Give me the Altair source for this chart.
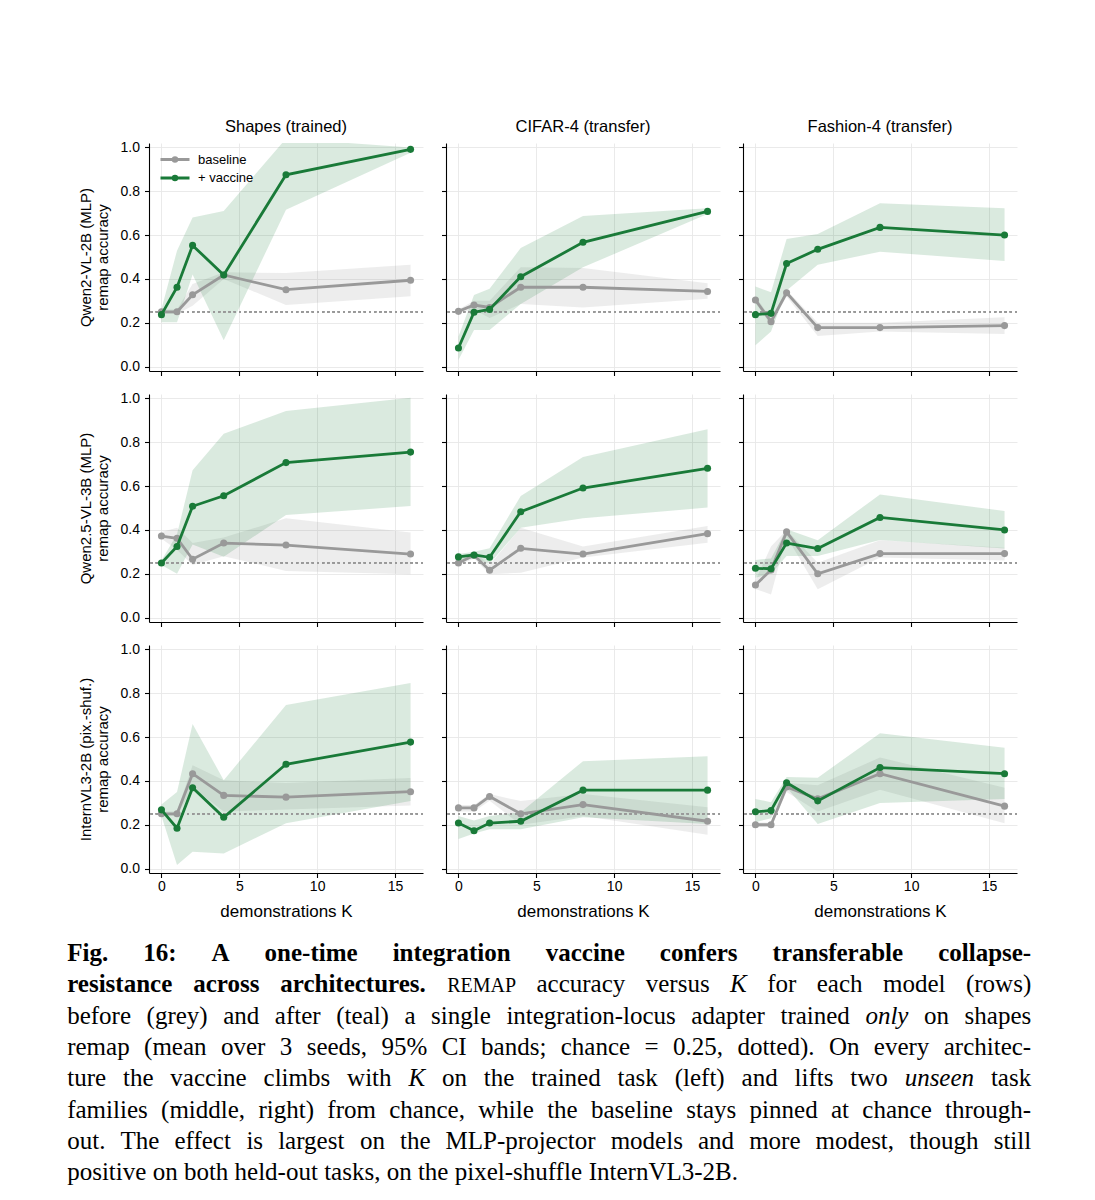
import altair as alt
import pandas as pd

# ---------------- data ----------------
K = [0, 1, 2, 4, 8, 16]
MODELS = ["Qwen2-VL-2B (MLP)", "Qwen2.5-VL-3B (MLP)", "InternVL3-2B (pix.-shuf.)"]
TASKS = ["Shapes (trained)", "CIFAR-4 (transfer)", "Fashion-4 (transfer)"]
SERIES = ["baseline", "+ vaccine"]
CHANCE = 0.25
X_TICKS = [0, 5, 10, 15]
Y_TICKS = [0.0, 0.2, 0.4, 0.6, 0.8, 1.0]

# Qwen2-VL-2B (MLP)
q2_shapes_base = [0.25, 0.25, 0.328, 0.418, 0.351, 0.394]
q2_shapes_base_lo = [0.24, 0.24, 0.278, 0.40, 0.281, 0.321]
q2_shapes_base_hi = [0.26, 0.26, 0.377, 0.43, 0.427, 0.465]
q2_shapes_vac = [0.237, 0.362, 0.553, 0.418, 0.875, 0.991]
q2_shapes_vac_lo = [0.202, 0.202, 0.42, 0.12, 0.716, 0.975]
q2_shapes_vac_hi = [0.263, 0.529, 0.68, 0.71, 1.04, 1.0]

q2_cifar_base = [0.252, 0.281, 0.27, 0.362, 0.362, 0.343]
q2_cifar_base_lo = [0.245, 0.26, 0.222, 0.286, 0.27, 0.31]
q2_cifar_base_hi = [0.26, 0.30, 0.30, 0.453, 0.45, 0.38]
q2_cifar_vac = [0.085, 0.248, 0.261, 0.41, 0.567, 0.708]
q2_cifar_vac_lo = [0.03, 0.167, 0.167, 0.286, 0.453, 0.696]
q2_cifar_vac_hi = [0.137, 0.327, 0.355, 0.541, 0.687, 0.722]

q2_fashion_base = [0.304, 0.205, 0.337, 0.178, 0.178, 0.187]
q2_fashion_base_lo = [0.29, 0.19, 0.32, 0.14, 0.16, 0.149]
q2_fashion_base_hi = [0.32, 0.22, 0.35, 0.20, 0.20, 0.225]
q2_fashion_vac = [0.237, 0.243, 0.47, 0.535, 0.635, 0.60]
q2_fashion_vac_lo = [0.097, 0.16, 0.347, 0.465, 0.524, 0.482]
q2_fashion_vac_hi = [0.365, 0.339, 0.582, 0.605, 0.745, 0.722]

# Qwen2.5-VL-3B (MLP)
q25_shapes_base = [0.372, 0.362, 0.266, 0.34, 0.331, 0.29]
q25_shapes_base_lo = [0.36, 0.31, 0.24, 0.28, 0.213, 0.198]
q25_shapes_base_hi = [0.39, 0.41, 0.34, 0.365, 0.453, 0.388]
q25_shapes_vac = [0.249, 0.324, 0.508, 0.556, 0.707, 0.755]
q25_shapes_vac_lo = [0.24, 0.20, 0.334, 0.278, 0.468, 0.509]
q25_shapes_vac_hi = [0.26, 0.38, 0.672, 0.839, 0.942, 1.003]

q25_cifar_base = [0.249, 0.284, 0.216, 0.316, 0.29, 0.383]
q25_cifar_base_lo = [0.24, 0.27, 0.198, 0.205, 0.274, 0.342]
q25_cifar_base_hi = [0.26, 0.30, 0.24, 0.41, 0.324, 0.418]
q25_cifar_vac = [0.277, 0.286, 0.275, 0.483, 0.591, 0.681]
q25_cifar_vac_lo = [0.26, 0.27, 0.246, 0.41, 0.453, 0.502]
q25_cifar_vac_hi = [0.29, 0.30, 0.316, 0.555, 0.733, 0.859]

q25_fashion_base = [0.149, 0.217, 0.391, 0.20, 0.292, 0.292]
q25_fashion_base_lo = [0.13, 0.106, 0.37, 0.129, 0.274, 0.26]
q25_fashion_base_hi = [0.17, 0.324, 0.40, 0.25, 0.353, 0.319]
q25_fashion_vac = [0.225, 0.223, 0.34, 0.315, 0.457, 0.40]
q25_fashion_vac_lo = [0.182, 0.20, 0.281, 0.281, 0.354, 0.315]
q25_fashion_vac_hi = [0.263, 0.27, 0.403, 0.353, 0.562, 0.486]

# InternVL3-2B (pix.-shuf.)
iv3_shapes_base = [0.25, 0.25, 0.433, 0.334, 0.326, 0.351]
iv3_shapes_base_lo = [0.24, 0.24, 0.37, 0.26, 0.27, 0.288]
iv3_shapes_base_hi = [0.26, 0.26, 0.472, 0.403, 0.39, 0.413]
iv3_shapes_vac = [0.268, 0.184, 0.369, 0.234, 0.476, 0.577]
iv3_shapes_vac_lo = [0.24, 0.017, 0.077, 0.069, 0.207, 0.308]
iv3_shapes_vac_hi = [0.292, 0.349, 0.66, 0.403, 0.746, 0.847]

iv3_cifar_base = [0.277, 0.277, 0.329, 0.25, 0.292, 0.216]
iv3_cifar_base_lo = [0.26, 0.26, 0.31, 0.20, 0.24, 0.155]
iv3_cifar_base_hi = [0.29, 0.29, 0.34, 0.308, 0.34, 0.28]
iv3_cifar_vac = [0.208, 0.173, 0.208, 0.216, 0.358, 0.358]
iv3_cifar_vac_lo = [0.135, 0.16, 0.18, 0.18, 0.234, 0.204]
iv3_cifar_vac_hi = [0.24, 0.22, 0.24, 0.257, 0.49, 0.513]

iv3_fashion_base = [0.20, 0.20, 0.372, 0.318, 0.433, 0.285]
iv3_fashion_base_lo = [0.19, 0.19, 0.35, 0.26, 0.36, 0.207]
iv3_fashion_base_hi = [0.21, 0.21, 0.39, 0.38, 0.507, 0.369]
iv3_fashion_vac = [0.259, 0.265, 0.392, 0.309, 0.461, 0.433]
iv3_fashion_vac_lo = [0.211, 0.23, 0.37, 0.204, 0.299, 0.318]
iv3_fashion_vac_hi = [0.318, 0.303, 0.418, 0.415, 0.617, 0.551]

CAPTION_LINES = [
    [("b", "Fig. 16: A one-time integration vaccine confers transferable collapse-")],
    [("b", "resistance across architectures."), ("sc", "REMAP"), ("r", "accuracy versus"),
     ("i", "K"), ("r", "for each model (rows)")],
    [("r", "before (grey) and after (teal) a single integration-locus adapter trained"),
     ("i", "only"), ("r", "on shapes")],
    [("r", "remap (mean over 3 seeds, 95% CI bands; chance = 0.25, dotted). On every architec-")],
    [("r", "ture the vaccine climbs with"), ("i", "K"),
     ("r", "on the trained task (left) and lifts two"), ("i", "unseen"), ("r", "task")],
    [("r", "families (middle, right) from chance, while the baseline stays pinned at chance through-")],
    [("r", "out. The effect is largest on the MLP-projector models and more modest, though still")],
    [("r", "positive on both held-out tasks, on the pixel-shuffle InternVL3-2B.")],
]

PANELS = {
    (0, 0): (q2_shapes_base, q2_shapes_base_lo, q2_shapes_base_hi, q2_shapes_vac, q2_shapes_vac_lo, q2_shapes_vac_hi),
    (0, 1): (q2_cifar_base, q2_cifar_base_lo, q2_cifar_base_hi, q2_cifar_vac, q2_cifar_vac_lo, q2_cifar_vac_hi),
    (0, 2): (q2_fashion_base, q2_fashion_base_lo, q2_fashion_base_hi, q2_fashion_vac, q2_fashion_vac_lo, q2_fashion_vac_hi),
    (1, 0): (q25_shapes_base, q25_shapes_base_lo, q25_shapes_base_hi, q25_shapes_vac, q25_shapes_vac_lo, q25_shapes_vac_hi),
    (1, 1): (q25_cifar_base, q25_cifar_base_lo, q25_cifar_base_hi, q25_cifar_vac, q25_cifar_vac_lo, q25_cifar_vac_hi),
    (1, 2): (q25_fashion_base, q25_fashion_base_lo, q25_fashion_base_hi, q25_fashion_vac, q25_fashion_vac_lo, q25_fashion_vac_hi),
    (2, 0): (iv3_shapes_base, iv3_shapes_base_lo, iv3_shapes_base_hi, iv3_shapes_vac, iv3_shapes_vac_lo, iv3_shapes_vac_hi),
    (2, 1): (iv3_cifar_base, iv3_cifar_base_lo, iv3_cifar_base_hi, iv3_cifar_vac, iv3_cifar_vac_lo, iv3_cifar_vac_hi),
    (2, 2): (iv3_fashion_base, iv3_fashion_base_lo, iv3_fashion_base_hi, iv3_fashion_vac, iv3_fashion_vac_lo, iv3_fashion_vac_hi),
}

rows = []
for (r, c), (bm, bl, bh, vm, vl, vh) in PANELS.items():
    for s, (m, lo, hi) in zip(SERIES, [(bm, bl, bh), (vm, vl, vh)]):
        for k, a, b, h in zip(K, m, lo, hi):
            rows.append(dict(model=MODELS[r], task=TASKS[c], series=s,
                             K=k, mean=a, lo=b, hi=h))
df = pd.DataFrame(rows)

# ---------------- style ----------------
SANS = "Liberation Sans"
SERIF = "Liberation Serif"
GREY = "#999999"
GREEN = "#197a38"
PW, PH = 274, 228
GAP = 23
# legend glyph: a short line with a dot in the middle (unit square -1..1)
LEGEND_GLYPH = ("M-1,0L1,0M-0.12,0A0.12,0.12,0,1,0,0.12,0"
                "A0.12,0.12,0,1,0,-0.12,0Z")

xscale = alt.Scale(domain=[-0.8, 16.8], nice=False, zero=False)
yscale = alt.Scale(domain=[-0.02, 1.02], nice=False, zero=False)
cscale = alt.Scale(domain=SERIES, range=[GREY, GREEN])


def panel(r, c):
    d = df[(df.model == MODELS[r]) & (df.task == TASKS[c])]
    base = alt.Chart(d)
    xax = alt.Axis(values=X_TICKS, labels=(r == 2), format="d",
                   title=("demonstrations K" if r == 2 else None))
    yax = alt.Axis(values=Y_TICKS, labels=(c == 0), format=".1f",
                   title=([MODELS[r], "remap accuracy"] if c == 0 else None))
    X = alt.X("K:Q", scale=xscale, axis=xax)

    if r == 0 and c == 0:
        leg_c = alt.Legend(orient="none", legendX=10, legendY=8.5, title=None,
                           symbolType=LEGEND_GLYPH, symbolSize=841,
                           symbolStrokeWidth=3,
                           clipHeight=16, rowPadding=2.4, padding=0,
                           labelFont=SANS, labelFontSize=13, labelOffset=7,
                           labelColor="black")
    else:
        leg_c = None

    layers = []
    for s, col, op in [(SERIES[0], GREY, 0.18), (SERIES[1], GREEN, 0.16)]:
        layers.append(
            base.transform_filter(alt.datum.series == s)
            .mark_area(color=col, opacity=op, clip=True)
            .encode(x=X, y=alt.Y("lo:Q", scale=yscale, axis=yax), y2="hi:Q")
        )
    layers.append(
        base.mark_rule(color=GREY, strokeDash=[2, 3.2], strokeWidth=1.3)
        .encode(y=alt.datum(CHANCE))
    )
    for s in SERIES:
        sd = base.transform_filter(alt.datum.series == s)
        layers.append(
            sd.mark_line(strokeWidth=2.8).encode(
                x=X, y=alt.Y("mean:Q", scale=yscale, axis=yax),
                color=alt.Color("series:N", scale=cscale, legend=leg_c))
        )
        layers.append(
            sd.mark_circle(size=50, opacity=1).encode(
                x=X, y=alt.Y("mean:Q", scale=yscale, axis=yax),
                fill=alt.Fill("series:N", scale=cscale, legend=None))
        )
    ch = alt.layer(*layers).properties(width=PW, height=PH)
    if r == 0:
        ch = ch.properties(title=alt.TitleParams(TASKS[c], font=SANS, fontSize=16.5,
                                                 fontWeight="normal", color="black",
                                                 anchor="middle", baseline="alphabetic",
                                                 offset=(-8 if c == 0 else -5)))
    return ch


# ---------------- caption (justified, Times metrics) ----------------
REG = {" ": 250, "(": 333, ")": 333, ",": 250, "-": 333, ".": 250, ":": 278, ";": 278,
       "=": 564, "%": 833, "A": 722, "B": 667, "C": 667, "E": 611, "I": 333, "K": 722,
       "L": 611, "M": 889, "O": 722, "P": 556, "R": 667, "T": 611, "V": 722,
       "a": 444, "b": 500, "c": 444, "d": 500, "e": 444, "f": 333, "g": 500, "h": 500,
       "i": 278, "j": 278, "k": 500, "l": 278, "m": 778, "n": 500, "o": 500, "p": 500,
       "q": 500, "r": 333, "s": 389, "t": 278, "u": 500, "v": 500, "w": 722, "x": 500,
       "y": 500, "z": 444}
BOLD = {" ": 250, ".": 250, ":": 333, "-": 333, ",": 250, "A": 722, "F": 611,
        "a": 500, "b": 556, "c": 444, "d": 556, "e": 444, "f": 333, "g": 500, "h": 556,
        "i": 278, "l": 278, "m": 833, "n": 556, "o": 500, "p": 556, "r": 444, "s": 389,
        "t": 333, "u": 556, "v": 500, "y": 500}
ITAL = {"K": 667, "o": 500, "n": 500, "l": 278, "y": 444, "u": 500, "s": 389, "e": 444}
SC_SCALE = 0.8
CAP_W = 964
CAP_X0 = -81.8
CAP_Y0 = 65.1
CAP_LH = 31.3


def em_width(word, style):
    if style == "sc":
        return sum(REG.get(ch, 600) for ch in word) / 1000 * SC_SCALE
    tab = {"r": REG, "b": BOLD, "i": ITAL}[style]
    return sum(tab.get(ch, 500 if ch.isdigit() else REG.get(ch, 500)) for ch in word) / 1000


tok_lines = []
for line in CAPTION_LINES:
    toks = []
    for style, seg in line:
        for w in seg.split(" "):
            toks.append((w, style))
    tok_lines.append(toks)

fs = 25.0
for toks in tok_lines[:-1]:
    nat = sum(em_width(w, s) for w, s in toks) + 0.25 * (len(toks) - 1)
    fs = min(fs, CAP_W / nat)

cap_rows = []
for i, toks in enumerate(tok_lines):
    widths = [em_width(w, s) * fs for w, s in toks]
    if i < len(tok_lines) - 1:
        gap = (CAP_W - sum(widths)) / (len(toks) - 1)
    else:
        gap = 0.25 * fs
    x = CAP_X0
    for (w, s), wd in zip(toks, widths):
        cap_rows.append(dict(w=w, style=s, x=x, y=CAP_Y0 + i * CAP_LH))
        x += wd + gap
cap_df = pd.DataFrame(cap_rows)

cap_layers = []
for style, kw, size in [("r", {}, fs), ("b", {"fontWeight": "bold"}, fs),
                        ("i", {"fontStyle": "italic"}, fs), ("sc", {}, fs * SC_SCALE)]:
    cap_layers.append(
        alt.Chart(cap_df).transform_filter(alt.datum.style == style)
        .mark_text(align="left", baseline="alphabetic", font=SERIF, fontSize=size,
                   color="black", **kw)
        .encode(x=alt.X("x:Q", scale=None), y=alt.Y("y:Q", scale=None), text="w:N")
    )
caption = alt.layer(*cap_layers).properties(width=PW, height=40)

panels = [panel(r, c) for r in range(3) for c in range(3)]

chart = (
    alt.concat(*panels, caption, columns=3, spacing=GAP, bounds="flush")
    .resolve_scale(color="independent", fill="independent")
    .properties(padding={"left": 59, "top": 110, "right": 5, "bottom": 5})
    .configure_view(stroke=None)
    .configure_axis(domainColor="black", domainWidth=1.1, tickColor="black",
                    tickWidth=1.1, tickSize=4.5, labelFont=SANS, labelFontSize=14,
                    labelColor="black", titleFont=SANS, titleFontSize=15,
                    titleFontWeight="normal", titleColor="black", gridColor="#e8e8e8",
                    gridWidth=0.9, labelFlush=False, labelOverlap=False)
    .configure_axisX(titleFontSize=17, titlePadding=10, labelPadding=2)
    .configure_axisY(titlePadding=10, labelPadding=5)
)

chart.save("out.html", embed_options={"renderer": "svg", "actions": False})
